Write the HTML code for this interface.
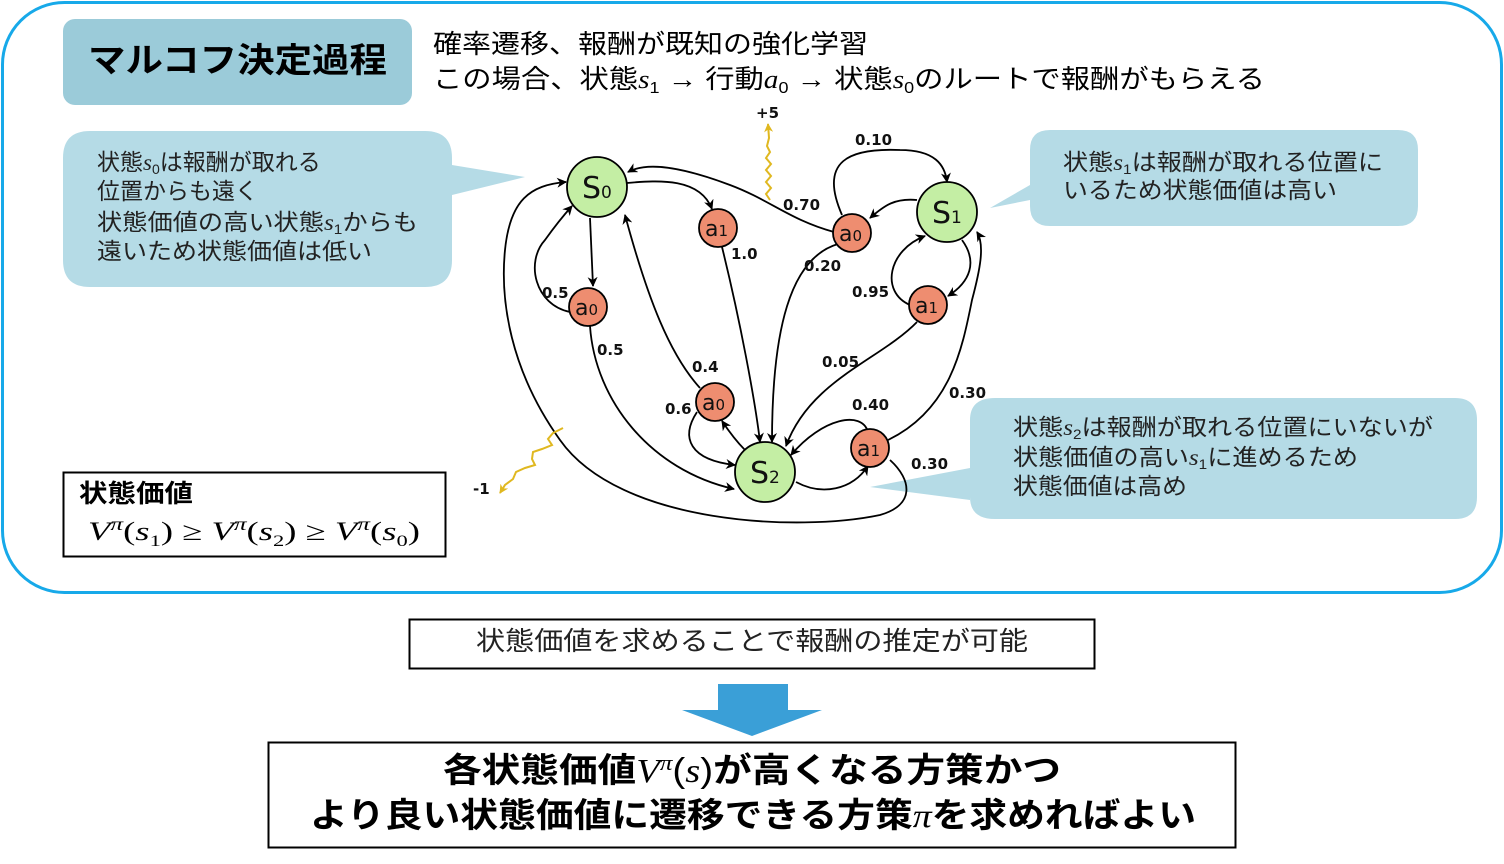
<!DOCTYPE html>
<html><head><meta charset="utf-8"><style>
html,body{margin:0;padding:0;background:#fff;}
svg{display:block;}
text{font-family:"Liberation Sans","Noto Sans CJK JP",sans-serif;}
text.dv, .dv text{font-family:"DejaVu Sans",sans-serif;}
.m{font-family:"Liberation Serif","Noto Sans CJK JP",serif;font-style:italic;}
</style></head><body>
<svg width="1504" height="864" viewBox="0 0 1504 864" xmlns="http://www.w3.org/2000/svg">
<defs>
<marker id="ar" viewBox="0 0 10 10" refX="9" refY="5" markerWidth="10" markerHeight="10" orient="auto" markerUnits="userSpaceOnUse"><path d="M0,0 L10,5 L0,10 L3,5 z" fill="#000"/></marker>
<marker id="ay" viewBox="0 0 10 10" refX="9" refY="5" markerWidth="9" markerHeight="9" orient="auto" markerUnits="userSpaceOnUse"><path d="M0,0 L10,5 L0,10 L3,5 z" fill="#e0b820"/></marker>
</defs>
<rect x="2.5" y="2.5" width="1499" height="590" rx="62" fill="#fff" stroke="#17a9e9" stroke-width="3"/>

<rect x="63" y="19" width="349" height="86" rx="12" fill="#9bcbd9"/>
<text x="88" y="72" font-size="34" font-weight="bold" textLength="299" lengthAdjust="spacingAndGlyphs">マルコフ決定過程</text>
<text x="433" y="53" font-size="26" textLength="435" lengthAdjust="spacingAndGlyphs">確率遷移、報酬が既知の強化学習</text>
<text x="433" y="88" font-size="26" textLength="832" lengthAdjust="spacingAndGlyphs">この場合、状態<tspan class="m">s</tspan><tspan font-size="16" dy="5">1</tspan><tspan dy="-5"> → 行動</tspan><tspan class="m">a</tspan><tspan font-size="16" dy="5">0</tspan><tspan dy="-5"> → 状態</tspan><tspan class="m">s</tspan><tspan font-size="16" dy="5">0</tspan><tspan dy="-5">のルートで報酬がもらえる</tspan></text>

<path d="M90,131 H425 Q452,131 452,158 V165 L525,177 L452,195 V260 Q452,287 425,287 H90 Q63,287 63,260 V158 Q63,131 90,131 z" fill="#b5dbe6"/>
<text font-size="23" fill="#222"><tspan x="97" y="170">状態<tspan class="m">s</tspan><tspan font-size="14" dy="4">0</tspan><tspan dy="-4">は報酬が取れる</tspan></tspan></text>
<text x="97" y="199" font-size="23" fill="#222">位置からも遠く</text>
<text x="97" y="230" font-size="23" fill="#222" textLength="321" lengthAdjust="spacingAndGlyphs">状態価値の高い状態<tspan class="m">s</tspan><tspan font-size="14" dy="4">1</tspan><tspan dy="-4">からも</tspan></text>
<text x="97" y="259" font-size="23" fill="#222" textLength="275" lengthAdjust="spacingAndGlyphs">遠いため状態価値は低い</text>

<path d="M1050,130 H1398 Q1418,130 1418,150 V206 Q1418,226 1398,226 H1050 Q1030,226 1030,206 V200 L990,208 L1030,185 V150 Q1030,130 1050,130 z" fill="#b5dbe6"/>
<text x="1063" y="170" font-size="23" fill="#222" textLength="320" lengthAdjust="spacingAndGlyphs">状態<tspan class="m">s</tspan><tspan font-size="14" dy="4">1</tspan><tspan dy="-4">は報酬が取れる位置に</tspan></text>
<text x="1063" y="198" font-size="23" fill="#222" textLength="274" lengthAdjust="spacingAndGlyphs">いるため状態価値は高い</text>

<path d="M995,398 H1455 Q1477,398 1477,420 V497 Q1477,519 1455,519 H995 Q970,519 970,497 V500 L870,487 L970,468 V420 Q970,398 995,398 z" fill="#b5dbe6"/>
<text x="1013" y="435" font-size="23" fill="#222" textLength="420" lengthAdjust="spacingAndGlyphs">状態<tspan class="m">s</tspan><tspan font-size="14" dy="4">2</tspan><tspan dy="-4">は報酬が取れる位置にいないが</tspan></text>
<text x="1013" y="465" font-size="23" fill="#222" textLength="345" lengthAdjust="spacingAndGlyphs">状態価値の高い<tspan class="m">s</tspan><tspan font-size="14" dy="4">1</tspan><tspan dy="-4">に進めるため</tspan></text>
<text x="1013" y="494" font-size="23" fill="#222" textLength="174" lengthAdjust="spacingAndGlyphs">状態価値は高め</text>

<rect x="63.5" y="472.5" width="382" height="84" fill="#fff" stroke="#000" stroke-width="2"/>
<text x="79" y="502" font-size="25" font-weight="bold" textLength="114" lengthAdjust="spacingAndGlyphs">状態価値</text>
<text x="88" y="540" font-size="26" class="m" textLength="332" lengthAdjust="spacingAndGlyphs">V<tspan font-size="18" dy="-10">π</tspan><tspan dy="10" font-style="normal">(</tspan>s<tspan font-size="16" dy="6" font-style="normal">1</tspan><tspan dy="-6" font-style="normal">) ≥ </tspan>V<tspan font-size="18" dy="-10">π</tspan><tspan dy="10" font-style="normal">(</tspan>s<tspan font-size="16" dy="6" font-style="normal">2</tspan><tspan dy="-6" font-style="normal">) ≥ </tspan>V<tspan font-size="18" dy="-10">π</tspan><tspan dy="10" font-style="normal">(</tspan>s<tspan font-size="16" dy="6" font-style="normal">0</tspan><tspan dy="-6" font-style="normal">)</tspan></text>

<g fill="none" stroke="#000" stroke-width="1.8" marker-end="url(#ar)">
<path d="M627,183 C660,180 700,178 712,209"/>
<path d="M722,247 C740,320 755,400 760,442"/>
<path d="M834,232 C790,220 770,200 730,185 C690,170 650,160 628,172"/>
<path d="M838,244 C790,258 772,330 772,442"/>
<path d="M917,200 C895,198 885,205 870,218"/>
<path d="M842,215 C818,160 850,148 900,150 C935,150 945,165 947,182"/>
<path d="M962,240 C978,262 970,282 948,296"/>
<path d="M910,305 C880,292 888,250 925,236"/>
<path d="M917,322 C880,360 810,380 786,446"/>
<path d="M888,440 C950,410 962,350 972,300 C980,270 985,245 977,232"/>
<path d="M868,432 C862,410 822,418 791,455"/>
<path d="M890,460 C912,480 915,505 880,515 C800,532 620,525 560,440 C510,370 500,300 505,250 C510,200 530,185 566,182"/>
<path d="M796,482 C822,496 852,490 868,466"/>
<path d="M590,218 L593,286"/>
<path d="M570,312 C535,305 525,262 545,240 C555,226 563,216 572,206"/>
<path d="M590,326 C595,400 650,470 734,489"/>
<path d="M700,388 C670,355 648,300 625,215"/>
<path d="M697,412 C680,438 690,460 735,465"/>
<path d="M745,450 C735,440 728,430 722,421"/>
</g>
<g fill="none" stroke="#e0b820" stroke-width="2" marker-end="url(#ay)">
<path d="M770,200 l-4,-6 l5,-6 l-5,-6 l5,-6 l-5,-6 l5,-6 l-5,-6 l4,-6 l-3,-6 l2,-8 l-1,-14"/>
<path d="M563,428 l-10,5 l-5,6 l4,6 l-10,4 l-9,3 l-1,7 l3,6 l-10,3 l-9,4 l-3,7 l-8,6 l-5,8"/>
</g>
<g class="dv" font-size="15" font-weight="bold" fill="#111">
<text x="756" y="118">+5</text>
<text x="473" y="494">-1</text>
<text x="855" y="145">0.10</text>
<text x="783" y="210">0.70</text>
<text x="731" y="259">1.0</text>
<text x="804" y="271">0.20</text>
<text x="852" y="297">0.95</text>
<text x="542" y="298">0.5</text>
<text x="597" y="355">0.5</text>
<text x="822" y="367">0.05</text>
<text x="692" y="372">0.4</text>
<text x="665" y="414">0.6</text>
<text x="852" y="410">0.40</text>
<text x="949" y="398">0.30</text>
<text x="911" y="469">0.30</text>
</g>
<g stroke="#000" stroke-width="1.8">
<circle cx="597" cy="187" r="30" fill="#c4eea4"/>
<circle cx="947" cy="212" r="30" fill="#c4eea4"/>
<circle cx="765" cy="472" r="30" fill="#c4eea4"/>
<circle cx="718" cy="228" r="19" fill="#ee8d70"/>
<circle cx="852" cy="233" r="19" fill="#ee8d70"/>
<circle cx="588" cy="307" r="19" fill="#ee8d70"/>
<circle cx="928" cy="305" r="19" fill="#ee8d70"/>
<circle cx="715" cy="402" r="19" fill="#ee8d70"/>
<circle cx="870" cy="448" r="19" fill="#ee8d70"/>
</g>
<g class="dv" fill="#111">
<text x="582" y="198" font-size="30">S<tspan font-size="17">0</tspan></text>
<text x="932" y="223" font-size="30">S<tspan font-size="17">1</tspan></text>
<text x="750" y="483" font-size="30">S<tspan font-size="17">2</tspan></text>
<text x="705" y="236" font-size="22">a<tspan font-size="15">1</tspan></text>
<text x="839" y="241" font-size="22">a<tspan font-size="15">0</tspan></text>
<text x="575" y="315" font-size="22">a<tspan font-size="15">0</tspan></text>
<text x="915" y="313" font-size="22">a<tspan font-size="15">1</tspan></text>
<text x="702" y="410" font-size="22">a<tspan font-size="15">0</tspan></text>
<text x="857" y="456" font-size="22">a<tspan font-size="15">1</tspan></text>
</g>

<rect x="409.5" y="619.5" width="685" height="49" fill="#fff" stroke="#000" stroke-width="2"/>
<text x="476" y="650" font-size="26" fill="#222" textLength="552" lengthAdjust="spacingAndGlyphs">状態価値を求めることで報酬の推定が可能</text>

<path d="M718,684 H788 V710 H822 L752,736 L682,710 H718 z" fill="#3a9fd7"/>

<rect x="268.5" y="742.5" width="967" height="105" fill="#fff" stroke="#000" stroke-width="2"/>
<text x="443" y="782" font-size="34" font-weight="bold" textLength="618" lengthAdjust="spacingAndGlyphs">各状態価値<tspan class="m" font-weight="normal">V</tspan><tspan class="m" font-weight="normal" font-size="22" dy="-12">π</tspan><tspan dy="12" font-weight="normal">(</tspan><tspan class="m" font-weight="normal">s</tspan><tspan font-weight="normal">)</tspan>が高くなる方策かつ</text>
<text x="310" y="827" font-size="34" font-weight="bold" textLength="886" lengthAdjust="spacingAndGlyphs">より良い状態価値に遷移できる方策<tspan class="m" font-weight="normal">π</tspan>を求めればよい</text>
</svg>
</body></html>
